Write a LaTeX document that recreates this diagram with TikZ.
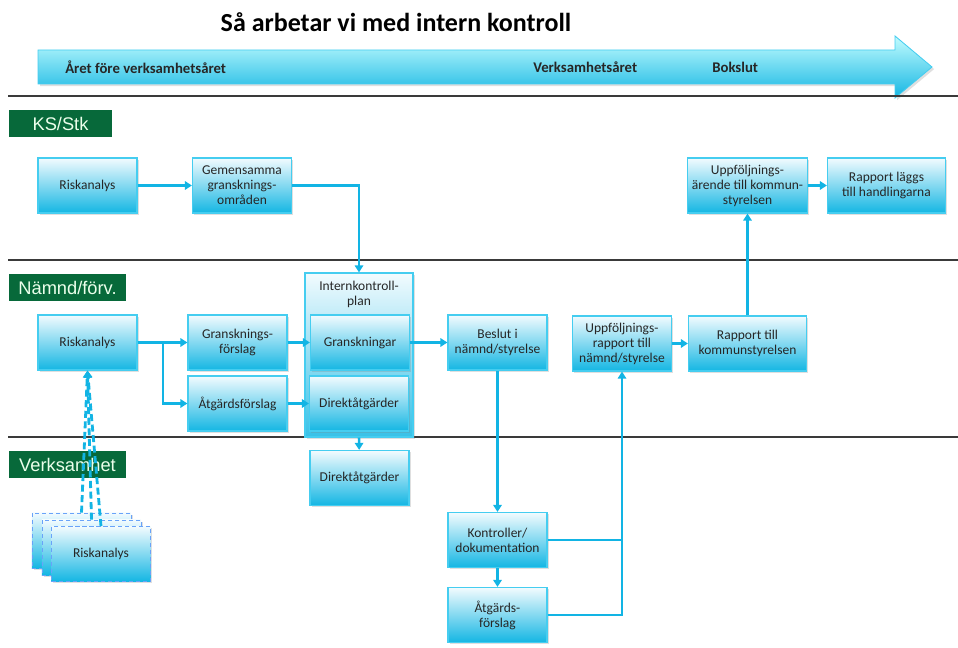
\documentclass[tikz,border=0pt]{standalone}
\usepackage{fontspec}
\setmainfont{Carlito}
\newfontfamily\lanefont{Liberation Sans}
\usetikzlibrary{arrows.meta,shadows}

\definecolor{boxtop}{HTML}{F2FBFE}
\definecolor{boxbot}{HTML}{14B6E3}
\definecolor{boxline}{HTML}{45CDF0}
\definecolor{flow}{HTML}{12B4E4}
\definecolor{lanegreen}{HTML}{07693A}
\definecolor{rule}{HTML}{3A3A3A}

\begin{document}
\begin{tikzpicture}[x=0.025cm, y=-0.025cm,
    box/.style={draw=boxline, line width=0.8pt, top color=boxtop, bottom color=boxbot,
        minimum width=2.475cm, minimum height=1.375cm, align=center, text=black!85,
        font=\fontsize{9.6}{10.6}\selectfont,
        drop shadow={opacity=0.25, shadow xshift=1.2pt, shadow yshift=-1.2pt}},
    widebox/.style={box, minimum width=2.95cm},
    ghostbox/.style={box, draw=boxline!60!blue!70, line width=0.5pt, densely dashed},
    lane/.style={fill=lanegreen, text=white!92!green, font=\lanefont\fontsize{13}{13}\selectfont,
        minimum height=0.675cm, inner sep=0pt},
    conn/.style={draw=flow, line width=1.8pt, -{Triangle[length=5pt,width=6pt]}},
    line/.style={draw=flow, line width=1.8pt},
    tick/.style={font=\bfseries\fontsize{10.5}{11}\selectfont, text=black!85, inner sep=0pt}]
    \useasboundingbox (0,0) rectangle (958,648);

    % the title and the time arrow
    \node (title) at (396,22) {\bfseries\fontsize{18.5}{20}\selectfont Så arbetar vi med intern kontroll};
    \shade[top color=boxtop!80!cyan, bottom color=boxbot, draw=boxline, line width=0.6pt,
        drop shadow={opacity=0.25, shadow xshift=1.5pt, shadow yshift=-1.5pt}]
        (38,50) -- (895,50) -- (895,36) -- (932,67) -- (895,98) -- (895,84) -- (38,84) -- cycle;
    \node[tick, anchor=west] (yr0) at (65,67) {Året före verksamhetsåret};
    \node[tick, anchor=west] (yr1) at (533,67) {Verksamhetsåret};
    \node[tick, anchor=west] (yr2) at (712,67) {Bokslut};

    % the lanes
    \draw[rule, line width=0.8pt] (8,96) -- (958,96);
    \draw[rule, line width=0.8pt] (8,260) -- (958,260);
    \draw[rule, line width=0.8pt] (8,437) -- (958,437);
    \node[lane, minimum width=2.575cm] (ks) at (60.5,123.5) {KS/Stk};
    \node[lane, minimum width=2.925cm] (nf) at (67.5,287.5) {Nämnd/förv.};
    \node[lane, minimum width=2.925cm] (vs) at (67.5,464.5) {Verksamhet};

    % the boxes of KS/Stk
    \node[box] (ksrisk) at (87.5,185.5) {Riskanalys};
    \node[box] (gemen) at (242,185.5) {Gemensamma\\gransknings-\\områden};
    \node[widebox] (uppar) at (747.5,185.5) {Uppföljnings-\\ärende till kommun-\\styrelsen};
    \node[widebox] (laggs) at (886.5,185.5) {Rapport läggs\\till handlingarna};

    % the boxes of Nämnd/förv.
    \node[box, minimum width=2.7cm, minimum height=4.1cm, top color=boxtop, bottom color=boxbot!85]
        (plan) at (359,355) {};
    \node[anchor=north, align=center, font=\fontsize{9.6}{10.6}\selectfont, text=black!85]
        (plantxt) at (359,276) {Internkontroll-\\plan};
    \node[box] (nfrisk) at (87.5,342.5) {Riskanalys};
    \node[box] (grf) at (237.5,342.5) {Gransknings-\\förslag};
    \node[box] (atf) at (237.5,403.5) {Åtgärdsförslag};
    \node[box] (gran) at (360,342.5) {Granskningar};
    \node[box] (dira) at (359,403.5) {Direktåtgärder};
    \node[box] (beslut) at (497.5,342.5) {Beslut i\\nämnd/styrelse};
    \node[box] (upprap) at (622,343.5) {Uppföljnings-\\rapport till\\nämnd/styrelse};
    \node[widebox] (rapks) at (747.5,343.5) {Rapport till\\kommunstyrelsen};

    % the boxes of Verksamhet
    \node[ghostbox] (rs1) at (81.5,540.5) {};
    \node[ghostbox] (rs2) at (91.5,547.5) {};
    \node[ghostbox] (rs3) at (101,554) {Riskanalys};
    \node[box] (dirb) at (359.5,478) {Direktåtgärder};
    \node[box] (kontr) at (497.5,540) {Kontroller/\\dokumentation};
    \node[box] (atgb) at (497.5,615) {Åtgärds-\\förslag};

    % draw the arrows
    \draw[conn] (ksrisk) -- (gemen);
    \draw[conn] (gemen.east) -| (plan.north);
    \coordinate (split) at (163,342.5);
    \draw[conn] (nfrisk) -- (grf);
    \draw[conn] (split) |- (atf);
    \draw[conn] (grf) -- (gran);
    \draw[conn] (atf) -- (dira);
    \draw[conn] (gran) -- (beslut);
    \draw[conn] (plan.south -| dira) -- (dirb);
    \draw[conn] (beslut) -- (kontr);
    \draw[conn] (kontr) -- (atgb);
    \draw[line] (kontr.east) -- (kontr.east -| upprap.south);
    \draw[conn] (atgb.east) -| (upprap.south);
    \draw[conn] (upprap) -- (rapks);
    \draw[conn] (rapks) -- (uppar);
    \draw[conn] (uppar) -- (laggs);

    % the dashed links from the units
    \foreach \u in {rs1,rs2,rs3}
        \draw[flow, line width=2pt, dash pattern=on 5pt off 2.5pt, -{Triangle[length=5pt,width=6pt]}]
            (\u.north) -- (nfrisk.south);
\end{tikzpicture}
\end{document}
